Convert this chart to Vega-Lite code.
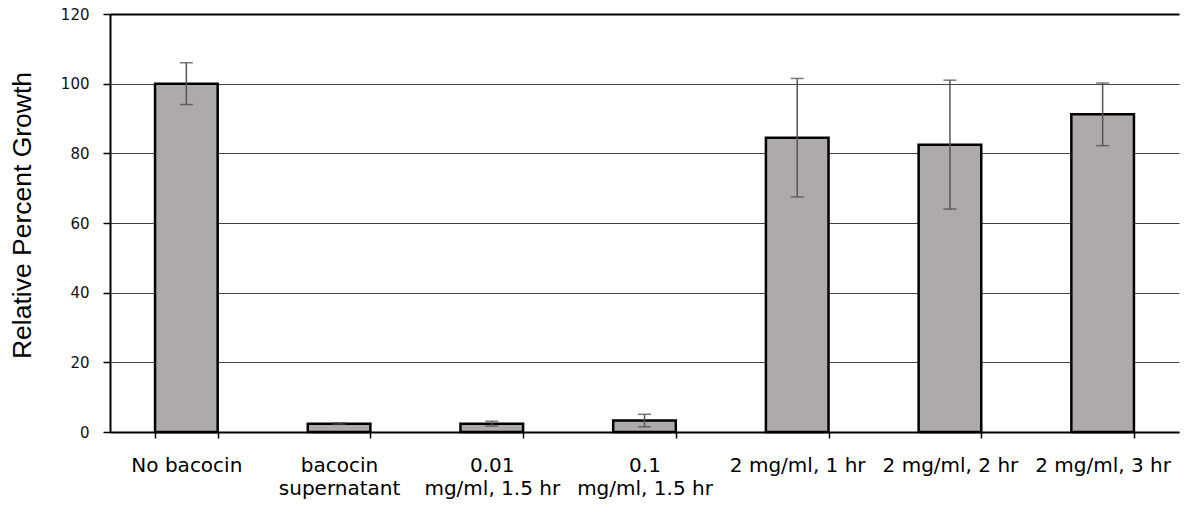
{
  "$schema": "https://vega.github.io/schema/vega-lite/v6.json",
  "width": 1069,
  "height": 418,
  "autosize": {"type": "none"},
  "padding": {"left": 110, "top": 14, "right": 6, "bottom": 73},
  "background": "white",
  "config": {"view": {"stroke": null}},
  "data": {
    "values": [
      {"treatment": "No bacocin", "growth": 100, "err": 6},
      {"treatment": "bacocin supernatant", "growth": 2.4, "err": 0.2},
      {"treatment": "0.01 mg/ml, 1.5 hr", "growth": 2.4, "err": 0.7},
      {"treatment": "0.1 mg/ml, 1.5 hr", "growth": 3.3, "err": 1.8},
      {"treatment": "2 mg/ml, 1 hr", "growth": 84.5, "err": 17},
      {"treatment": "2 mg/ml, 2 hr", "growth": 82.5, "err": 18.5},
      {"treatment": "2 mg/ml, 3 hr", "growth": 91.2, "err": 9}
    ]
  },
  "encoding": {
    "x": {
      "field": "treatment",
      "type": "nominal",
      "sort": null,
      "scale": {"paddingInner": 0.59, "paddingOuter": 0.295},
      "axis": {
        "title": null,
        "labelAngle": 0,
        "labelFont": "DejaVu Sans",
        "labelFontSize": 20,
        "labelColor": "black",
        "labelPadding": 17,
        "labelLineHeight": 23,
        "labelBaseline": "top",
        "labelLimit": 300,
        "labelExpr": "datum.value == 'bacocin supernatant' ? ['bacocin', 'supernatant'] : datum.value == '0.01 mg/ml, 1.5 hr' ? ['0.01', 'mg/ml, 1.5 hr'] : datum.value == '0.1 mg/ml, 1.5 hr' ? ['0.1', 'mg/ml, 1.5 hr'] : datum.value",
        "tickBand": "extent",
        "tickColor": "black",
        "tickWidth": 1.5,
        "tickSize": 6,
        "domainColor": "black",
        "domainWidth": 2,
        "grid": false
      }
    }
  },
  "layer": [
    {
      "mark": {"type": "bar", "fill": "#aeaaaa", "stroke": "black", "strokeWidth": 2.5},
      "encoding": {
        "y": {
          "field": "growth",
          "type": "quantitative",
          "title": "Relative Percent Growth",
          "scale": {"domain": [0, 120], "nice": false},
          "axis": {
            "title": "Relative Percent Growth",
            "titleFont": "Liberation Sans",
            "titleFontSize": 26.5,
            "titleFontWeight": "normal",
            "titleColor": "black",
            "titleAngle": -90,
            "titleX": -88,
            "titleY": 201,
            "titleAlign": "center",
            "titleBaseline": "middle",
            "values": [0, 20, 40, 60, 80, 100, 120],
            "labelFont": "DejaVu Sans",
            "labelFontSize": 15,
            "labelColor": "#111",
            "labelPadding": 14,
            "tickColor": "black",
            "tickSize": 7,
            "tickWidth": 1.5,
            "domainColor": "black",
            "domainWidth": 2,
            "grid": true,
            "gridColor": {"condition": {"test": "datum.value == 120", "value": "black"}, "value": "#444"},
            "gridWidth": {"condition": {"test": "datum.value == 120", "value": 2}, "value": 1.2}
          }
        }
      }
    },
    {
      "mark": {
        "type": "errorbar",
        "ticks": {"size": 13, "color": "#444", "thickness": 1.5},
        "rule": {"color": "#555", "strokeWidth": 1.5}
      },
      "encoding": {
        "y": {"field": "growth", "type": "quantitative", "title": "Relative Percent Growth"},
        "yError": {"field": "err"}
      }
    }
  ]
}
